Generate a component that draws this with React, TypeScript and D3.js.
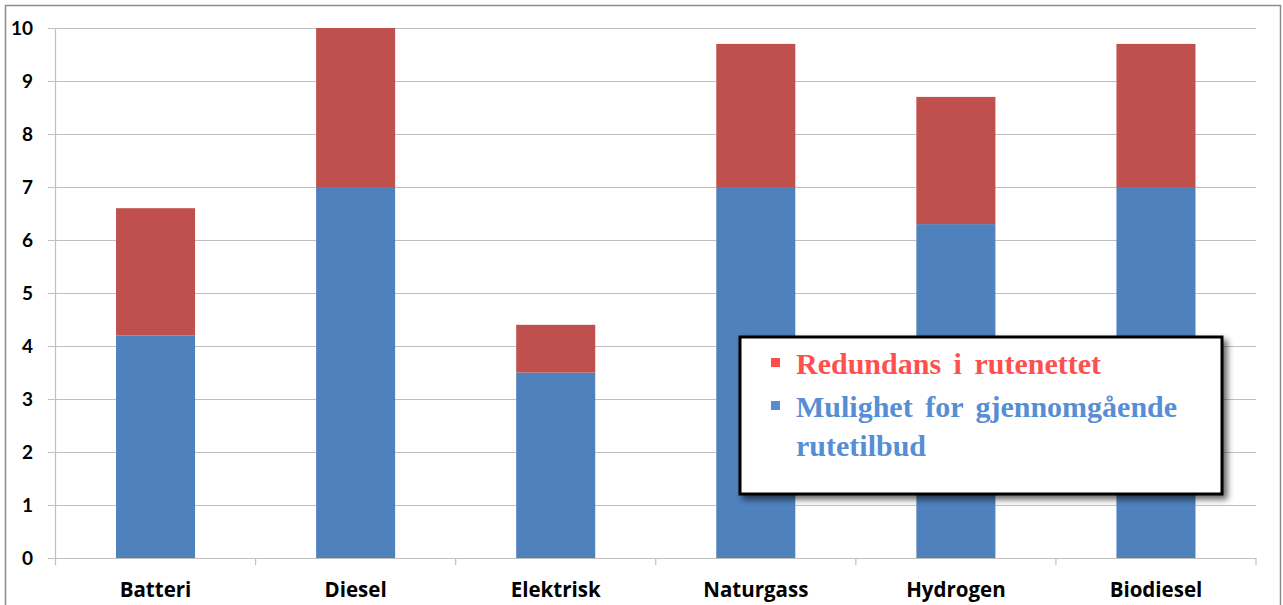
import React from "react";
import * as d3 from "d3";

const categories = ["Batteri", "Diesel", "Elektrisk", "Naturgass", "Hydrogen", "Biodiesel"];
const mulighet = [4.2, 7, 3.5, 7, 6.3, 7];
const redundans = [2.4, 3, 0.9, 2.7, 2.4, 2.7];
const yTicks = [0, 1, 2, 3, 4, 5, 6, 7, 8, 9, 10];
const legendItems = [
  { lines: ["Redundans i rutenettet"], color: "#FF5050", marker: "#FF4B4B" },
  { lines: ["Mulighet for gjennomgående", "rutetilbud"], color: "#558ED5", marker: "#558ED5" },
];

const W = 1283;
const H = 605;
const left = 55.5;
const right = 1256;
const top = 28;
const bottom = 558;

export default function App() {
  const x = d3.scaleBand<string>().domain(categories).range([left, right]).paddingInner(0.605).paddingOuter(0.3025);
  const band = (right - left) / categories.length;
  const y = d3.scaleLinear().domain([0, 10]).range([bottom, top]);
  const stacked = categories.map((c, i) => ({ c, b: mulighet[i], r: redundans[i] }));
  const axisFont = "Lato, 'Open Sans', sans-serif";
  const catFont = "'Open Sans', Lato, sans-serif";
  const serif = "'Liberation Serif', 'DejaVu Serif', serif";

  return (
    <svg width={W} height={H} style={{ position: "absolute", left: 0, top: 0 }}>
      <defs>
        <filter id="sh" x="-10%" y="-10%" width="130%" height="140%">
          <feGaussianBlur in="SourceAlpha" stdDeviation="3" />
          <feOffset dx="4" dy="4" result="b" />
          <feComponentTransfer><feFuncA type="linear" slope="0.6" /></feComponentTransfer>
          <feMerge><feMergeNode /><feMergeNode in="SourceGraphic" /></feMerge>
        </filter>
      </defs>
      <rect x={0} y={0} width={W} height={H} fill="#fff" />
      <rect x={5.5} y={5.5} width={1275} height={640} fill="none" stroke="#8c8c8c" strokeWidth={1.5} />
      {yTicks.map((t) => (
        <g key={t}>
          <line x1={48} x2={right} y1={Math.round(y(t)) + 0.5} y2={Math.round(y(t)) + 0.5} stroke="#c0c0c0" strokeWidth={1.2} />
          <text x={33} y={y(t) + 6.5} textAnchor="end" fontFamily={axisFont} fontWeight={700} fontSize={19} fill="#000">{t}</text>
        </g>
      ))}
      <line x1={left} x2={left} y1={top} y2={bottom + 7} stroke="#c0c0c0" strokeWidth={1.2} />
      {categories.map((c, i) => (
        <line key={c} x1={left + band * (i + 1)} x2={left + band * (i + 1)} y1={bottom} y2={bottom + 7} stroke="#c0c0c0" strokeWidth={1.2} />
      ))}
      {stacked.map((d) => (
        <g key={d.c}>
          <rect x={x(d.c)} width={x.bandwidth()} y={y(d.b)} height={y(0) - y(d.b)} fill="#4F81BD" />
          <rect x={x(d.c)} width={x.bandwidth()} y={y(d.b + d.r)} height={y(d.b) - y(d.b + d.r)} fill="#C0504D" />
          <text x={(x(d.c) as number) + x.bandwidth() / 2} y={597} textAnchor="middle" fontFamily={catFont} fontWeight={700} fontSize={20.5} fill="#000">{d.c}</text>
        </g>
      ))}
      <g filter="url(#sh)">
        <rect x={740} y={337} width={482} height={157} fill="#fff" stroke="#000" strokeWidth={3} />
      </g>
      {(() => {
        let lineIdx = 0;
        const baselines = [374, 417, 456];
        return legendItems.map((it, k) => {
          const first = lineIdx;
          const el = (
            <g key={k}>
              <rect x={771} y={baselines[first] - 16} width={9} height={9} fill={it.marker} />
              {it.lines.map((ln, j) => (
                <text key={j} x={796} y={baselines[first + j]} fontFamily={serif} fontWeight={700} fontSize={30} wordSpacing={5} fill={it.color}>{ln}</text>
              ))}
            </g>
          );
          lineIdx += it.lines.length;
          return el;
        });
      })()}
    </svg>
  );
}
